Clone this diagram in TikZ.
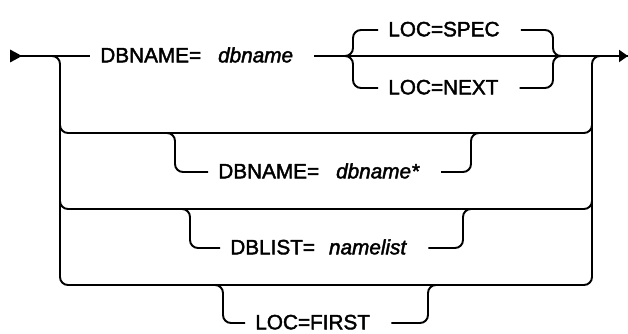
\documentclass[tikz,border=0pt]{standalone}
\usepackage{fontspec}
\setmainfont{Liberation Sans}[FakeBold=2]
\usepackage{tikz}
\usetikzlibrary{arrows.meta,positioning,calc}

\begin{document}
\begin{tikzpicture}[
        x=0.02cm, y=-0.02cm,
        rail/.style={line width=1.1pt, rounded corners=0.16cm},
        kw/.style={anchor=west, inner xsep=0.2cm, inner ysep=0pt,
          text height=0.72em, text depth=0pt,
          font=\fontsize{11.8}{13}\selectfont},
        >={Triangle[length=0.18cm,width=0.24cm]}
      ]
        \useasboundingbox (0,0) rectangle (628,334);

        % ends of the main line
        \coordinate (start) at (10,56);
        \coordinate (finish) at (628,56);

        % first row
        \node[kw] (dbn) at (90,56) {DBNAME=\hspace{0.34cm}\textit{dbname}\kern0.22cm};
        \node[kw] (spec) at (378,30) {LOC=SPEC\kern0.22cm};
        \node[kw] (nxt) at (378,88) {LOC=NEXT\kern0.22cm};

        % other rows
        \node[kw] (dbs) at (208,172) {DBNAME=\hspace{0.34cm}\textit{dbname*}\kern0.22cm};
        \node[kw] (dbl) at (220,248) {DBLIST=\hspace{0.28cm}\textit{namelist}\kern0.22cm};
        \node[kw] (first) at (245,323) {LOC=FIRST\kern0.22cm};

        % main line
        \fill (start) ++(0,-6.5) -- ++(12,6.5) -- ++(-12,6.5) -- cycle;
        \draw[rail] (start) -- (dbn.west);
        \draw[rail,->] (dbn.east) -- (finish);

        % LOC choice
        \draw[rail] (spec.west) -| (353,56) -- (345,56);
        \draw[rail] (nxt.west) -| (353,56) -- (345,56);
        \draw[rail] (spec.east) -| (553,56) -- (561,56);
        \draw[rail] (nxt.east) -| (553,56) -- (561,56);

        % outer loop
        \draw[rail] (start) -| (60,285) -- (592,285) |- (finish);
        \draw[rail] (60,110) |- (592,133) -- (592,110);
        \draw[rail] (60,190) |- (592,209) -- (592,190);

        % DBNAME= dbname*
        \draw[rail] (160,133) -| (175,172) -- (dbs.west);
        \draw[rail] (dbs.east) -| (471,133) -- (485,133);

        % DBLIST= namelist
        \draw[rail] (175,209) -| (190,248) -- (dbl.west);
        \draw[rail] (dbl.east) -| (463,209) -- (475,209);

        % LOC=FIRST
        \draw[rail] (210,285) -| (223,323) -- (first.west);
        \draw[rail] (first.east) -| (428,285) -- (440,285);
      \end{tikzpicture}
\end{document}
